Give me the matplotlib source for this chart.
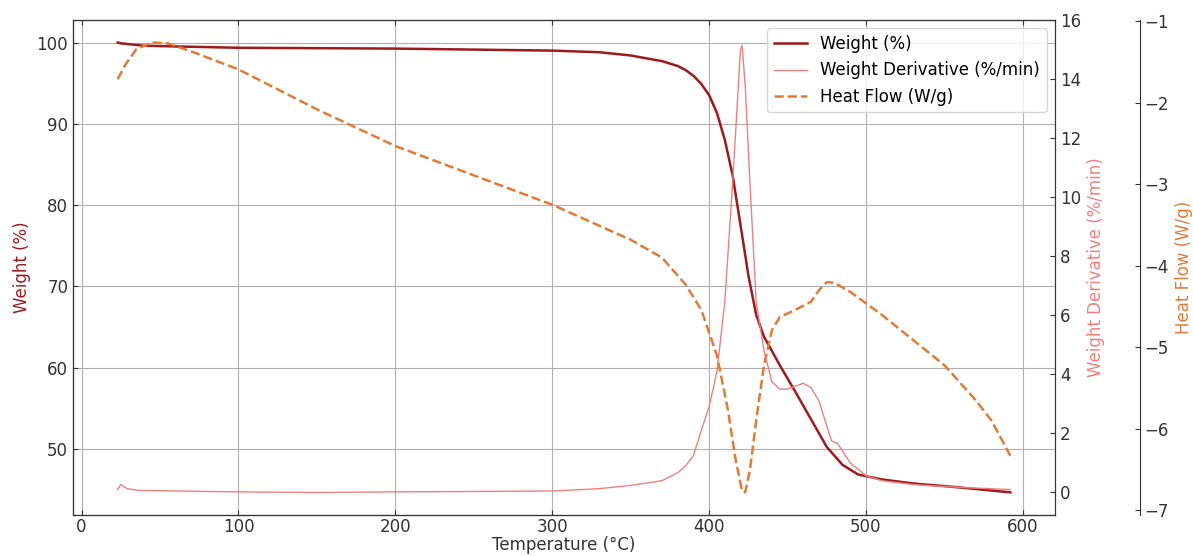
import matplotlib
matplotlib.use("Agg")
import matplotlib.pyplot as plt

# temperature (°C) / weight (%)
temp_w = [23, 25, 40, 100, 200, 300, 330, 350, 370, 380, 385, 390, 395, 400,
          405, 410, 415, 420, 425, 430, 435, 445, 455, 465, 475, 485, 495,
          510, 530, 560, 592]
weight = [100.1, 100.0, 99.7, 99.45, 99.35, 99.1, 98.9, 98.5, 97.8, 97.2,
          96.7, 96.0, 95.0, 93.6, 91.4, 88.1, 83.7, 77.6, 71.4, 66.5, 63.8,
          60.3, 57.0, 53.6, 50.2, 48.0, 46.8, 46.2, 45.7, 45.2, 44.6]

# temperature (°C) / weight derivative (%/min)
temp_d = [23, 25, 29, 37, 100, 150, 200, 300, 330, 350, 370, 380, 385, 390,
          395, 400, 405, 410, 415, 418, 420, 421, 423, 426, 430, 435, 440,
          445, 450, 455, 460, 465, 470, 475, 478, 482, 490, 500, 510, 530,
          560, 592]
deriv = [0.1, 0.27, 0.13, 0.07, 0.02, 0.0, 0.02, 0.05, 0.13, 0.24, 0.4,
         0.67, 0.9, 1.25, 2.1, 2.9, 4.1, 6.45, 10.5, 13.2, 15.0, 15.15, 13.8,
         10.5, 6.45, 4.8, 3.75, 3.5, 3.5, 3.6, 3.7, 3.55, 3.1, 2.25, 1.75,
         1.65, 1.0, 0.57, 0.4, 0.27, 0.17, 0.1]

# temperature (°C) / heat flow (W/g)
temp_h = [23, 28, 35, 45, 55, 70, 100, 150, 200, 250, 300, 350, 370, 385,
          395, 405, 412, 417, 421, 423, 426, 430, 435, 440, 445, 455, 465,
          470, 475, 480, 490, 510, 530, 550, 570, 580, 592]
heat = [-1.71, -1.53, -1.34, -1.26, -1.27, -1.37, -1.59, -2.08, -2.53, -2.89,
        -3.25, -3.68, -3.90, -4.23, -4.54, -5.10, -5.77, -6.39, -6.76, -6.78,
        -6.51, -5.90, -5.22, -4.79, -4.63, -4.54, -4.44, -4.30, -4.20, -4.21,
        -4.32, -4.60, -4.91, -5.22, -5.65, -5.90, -6.33]

c_w = '#9b1b1e'
c_d = 'lightcoral'
c_h = '#e07b39'
txt = '#333333'

plt.rcParams['font.size'] = 12
plt.rcParams['xtick.direction'] = 'in'
plt.rcParams['ytick.direction'] = 'in'
plt.rcParams['xtick.color'] = txt
plt.rcParams['ytick.color'] = txt
plt.rcParams['axes.edgecolor'] = txt

fig = plt.figure(figsize=(11.93, 5.56), dpi=100)
ax1 = fig.add_subplot(111)
fig.subplots_adjust(left=0.0612, right=0.8843, bottom=0.074, top=0.964)

ax2 = ax1.twinx()
ax3 = ax1.twinx()
ax3.spines['right'].set_position(('outward', 61))

l1, = ax1.plot(temp_w, weight, color=c_w, lw=1.8, label='Weight (%)')
l2, = ax2.plot(temp_d, deriv, color=c_d, lw=1, label='Weight Derivative (%/min)')
l3, = ax3.plot(temp_h, heat, color=c_h, lw=1.8, ls='--', label='Heat Flow (W/g)')

ax1.set_xlabel('Temperature (°C)', color=txt, labelpad=0)
ax1.set_ylabel('Weight (%)', color=c_w)
ax2.set_ylabel('Weight Derivative (%/min)', color=c_d)
ax3.set_ylabel('Heat Flow (W/g)', color=c_h)

ax1.set_xticks([0, 100, 200, 300, 400, 500, 600])
ax1.tick_params(top=True)
ax1.tick_params(axis='x', pad=2)
ax1.grid(True)
ax2.set_yticks([0, 2, 4, 6, 8, 10, 12, 14, 16])
ax3.set_yticks([-7, -6, -5, -4, -3, -2, -1])

ax3.legend(handles=[l1, l2, l3], loc='upper right')

fig.savefig('out.png', dpi=100)
